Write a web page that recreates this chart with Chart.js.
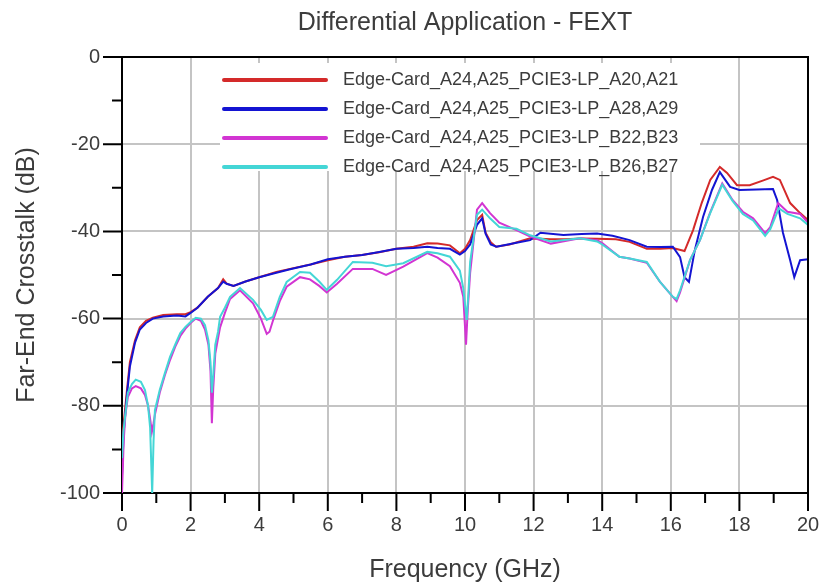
<!DOCTYPE html>
<html>
<head>
<meta charset="utf-8">
<script src="https://cdn.jsdelivr.net/npm/chart.js@4.4.1/dist/chart.umd.min.js"></script>
<style>
  body { margin: 0; background: #fff; }
  #wrap { width: 819px; height: 585px; }
</style>
</head>
<body>
<div id="wrap"><canvas id="fext" width="819" height="585"></canvas></div>
<script>
// Legend names
const seriesNames = [
  "Edge-Card_A24,A25_PCIE3-LP_A20,A21",
  "Edge-Card_A24,A25_PCIE3-LP_A28,A29",
  "Edge-Card_A24,A25_PCIE3-LP_B22,B23",
  "Edge-Card_A24,A25_PCIE3-LP_B26,B27",
];
const seriesColors = ["#d42a2a", "#1414d2", "#d235d2", "#44d6d6"];

// axis ticks
const xTicks = [0, 2, 4, 6, 8, 10, 12, 14, 16, 18, 20];
const yTicks = [-100, -80, -60, -40, -20, 0];

// A20,A21 (red)
const freqA20 = [0, 0.05, 0.15, 0.23, 0.38, 0.52, 0.7, 0.9, 1.2, 1.6, 1.85, 2.0, 2.2, 2.5, 2.8, 2.95, 3.05, 3.25, 3.6, 4.0,
  4.5, 4.9, 5.5, 6.0, 6.5, 7.0, 7.5, 8.0, 8.5, 8.9, 9.2, 9.56, 9.85, 10.0, 10.15, 10.35, 10.5, 10.6, 10.75, 10.9,
  11.3, 11.9, 12.5, 12.9, 13.4, 13.85, 14.4, 14.8, 15.3, 15.7, 16.06, 16.4, 16.65, 16.9, 17.15, 17.43, 17.64, 17.93, 18.3, 18.7,
  18.98, 19.18, 19.48, 19.77, 20];
const dbA20 = [-88, -84, -76, -70, -65, -62, -60.5, -59.8, -59.2, -59, -59, -58.5, -57.5, -55, -53, -51, -52, -52.5, -51.5, -50.5,
  -49.3, -48.6, -47.6, -46.6, -45.8, -45.4, -44.8, -44, -43.5, -42.7, -42.8, -43.2, -45, -44, -42, -37.4, -36.2, -40.3, -42.5, -43.5,
  -43, -41.6, -41.8, -41.8, -41.6, -41.7, -41.8, -42.4, -44, -44, -43.8, -44.5, -39.7, -33.5, -28.2, -25.2, -26.6, -29.4, -29.4, -28.3,
  -27.5, -28.2, -33.5, -35.8, -37.4];

// A28,A29 (blue)
const freqA28 = [0, 0.05, 0.15, 0.23, 0.38, 0.52, 0.7, 0.9, 1.2, 1.6, 1.85, 2.0, 2.2, 2.5, 2.8, 2.95, 3.05, 3.25, 3.6, 4.0,
  4.5, 4.9, 5.5, 6.0, 6.5, 7.0, 7.5, 8.0, 8.5, 8.9, 9.2, 9.56, 9.85, 10.0, 10.15, 10.35, 10.5, 10.6, 10.75, 10.92,
  11.5, 11.9, 12.2, 12.87, 13.4, 13.85, 14.3, 14.8, 15.3, 15.7, 16.06, 16.27, 16.4, 16.53, 16.7, 16.94, 17.2, 17.43, 17.73, 18.0,
  18.5, 18.98, 19.1, 19.27, 19.48, 19.6, 19.77, 20];
const dbA28 = [-96, -86, -77, -71, -65.5, -62.5, -61, -60, -59.5, -59.3, -59.5, -58.7, -57.5, -55, -53, -51.5, -52, -52.5, -51.5, -50.5,
  -49.5, -48.7, -47.6, -46.4, -45.8, -45.4, -44.7, -44, -43.8, -43.5, -43.8, -44, -45.3, -44.5, -43, -38.5, -37, -40.5, -43, -43.5,
  -42.6, -42, -40.3, -40.8, -40.6, -40.5, -41, -42, -43.5, -43.6, -43.5, -45.9, -50.5, -51.6, -44.3, -36.7, -30.5, -26.4, -29.8, -30.5,
  -30.4, -30.3, -32.8, -40.3, -46.6, -50.5, -46.6, -46.4];

// B22,B23 (magenta)
const freqB22 = [0, 0.05, 0.1, 0.17, 0.29, 0.4, 0.55, 0.67, 0.76, 0.82, 0.87, 0.92, 0.96, 1.1, 1.25, 1.4, 1.55, 1.7, 1.85, 2.0,
  2.15, 2.3, 2.42, 2.52, 2.58, 2.62, 2.66, 2.72, 2.8, 2.86, 3.0, 3.15, 3.44, 3.82, 4.05, 4.22, 4.3, 4.4, 4.6, 4.8,
  5.19, 5.48, 5.75, 5.97, 6.27, 6.73, 7.3, 7.7, 8.2, 8.9, 9.2, 9.56, 9.85, 9.95, 10.03, 10.08, 10.15, 10.35, 10.5, 10.73,
  11.0, 11.5, 11.9, 12.5, 13.35, 13.85, 14.0, 14.5, 14.8, 15.3, 15.68, 16.06, 16.17, 16.27, 16.56, 16.85, 17.14, 17.5, 17.8, 18.1,
  18.4, 18.75, 18.9, 19.13, 19.4, 19.77, 20];
const dbB22 = [-100, -88, -82, -78, -76, -75.5, -76, -77.5, -80, -83, -86, -84, -82, -77, -73, -69.5, -66.5, -64, -62.3, -61,
  -60, -60.5, -62.5, -66, -72, -84, -76, -68, -64.5, -62, -58.7, -55.5, -53.5, -56.5, -60, -63.5, -63, -60.5, -56, -52.7,
  -50.5, -51, -52.5, -54, -52, -48.6, -48.6, -50, -48.1, -45, -46, -48, -51.8, -55, -66, -58, -49.5, -35, -33.5, -35.8,
  -38, -39.7, -41.2, -42.8, -41.6, -42, -42.7, -45.8, -46.2, -47.2, -51.5, -55, -56, -54, -46.6, -42, -35.8, -29, -32.8, -35.5,
  -37, -40.4, -39, -33.5, -35.5, -36, -38];

// B26,B27 (cyan)
const freqB26 = [0, 0.04, 0.09, 0.17, 0.29, 0.4, 0.55, 0.67, 0.76, 0.82, 0.86, 0.88, 0.92, 0.96, 1.1, 1.25, 1.4, 1.55, 1.7, 1.85,
  2.0, 2.15, 2.3, 2.42, 2.52, 2.58, 2.62, 2.66, 2.72, 2.8, 2.86, 3.0, 3.15, 3.44, 3.82, 4.05, 4.22, 4.4, 4.6, 4.8,
  5.19, 5.48, 5.75, 5.97, 6.27, 6.73, 7.3, 7.7, 8.2, 8.9, 9.2, 9.56, 9.85, 9.95, 10.05, 10.1, 10.15, 10.35, 10.5, 10.73,
  11.0, 11.5, 11.9, 12.5, 13.35, 13.85, 14.0, 14.5, 14.8, 15.3, 15.68, 16.06, 16.17, 16.27, 16.56, 16.85, 17.14, 17.5, 17.8, 18.1,
  18.4, 18.75, 18.9, 19.15, 19.4, 19.77, 20];
const dbB26 = [-92, -86, -82.5, -77, -75, -74, -74.5, -76.4, -80, -85, -95, -100, -88, -81, -76.4, -72.5, -68.8, -66, -63.3, -61.9,
  -60.8, -59.8, -60, -61.5, -65, -70, -77, -73, -66, -63, -59.6, -57.5, -55, -53, -55.7, -58, -60.3, -59.6, -55, -51.6,
  -49.3, -49.5, -51.5, -53.4, -51.1, -47, -47.2, -48, -47.3, -44.7, -45, -45.8, -49, -53, -60.3, -54, -47, -36.2, -35, -37,
  -39, -39.4, -40.9, -42.3, -41.6, -42.3, -43, -45.8, -46.2, -47, -51.5, -55, -55.5, -53.5, -46.6, -42, -36, -29.3, -33, -36,
  -37.5, -41, -39.5, -34.7, -36, -37, -38.5];

const freqs = [freqA20, freqA28, freqB22, freqB26];
const values = [dbA20, dbA28, dbB22, dbB26];

const textColor = "#3c3c3c";
const fontFamily = '"Liberation Sans", Arial, sans-serif';

// legend inside plot, frame and tick marks
const fextDecor = {
  id: "fextDecor",
  beforeDatasetsDraw(chart) {
    const ctx = chart.ctx;
    ctx.save();
    ctx.fillStyle = "#fff";
    ctx.fillRect(220, 63, 480, 108);
    chart.data.datasets.forEach((ds, i) => {
      const ly = 80 + i * 29;
      ctx.strokeStyle = ds.borderColor;
      ctx.lineWidth = 4;
      ctx.lineCap = "round";
      ctx.beginPath();
      ctx.moveTo(224, ly);
      ctx.lineTo(326, ly);
      ctx.stroke();
      ctx.fillStyle = textColor;
      ctx.font = "18px " + fontFamily;
      ctx.textBaseline = "middle";
      ctx.fillText(ds.label, 343, ly);
    });
    ctx.restore();
  },
  afterDraw(chart) {
    const { ctx, chartArea: a, scales } = chart;
    ctx.save();
    ctx.strokeStyle = "#000";
    ctx.lineWidth = 2;
    ctx.beginPath();
    // top + right frame
    ctx.moveTo(a.left, a.top);
    ctx.lineTo(a.right, a.top);
    ctx.lineTo(a.right, a.bottom);
    // y tick marks, every 10 dB
    for (let v = -100; v <= 0; v += 10) {
      const py = scales.y.getPixelForValue(v);
      const len = v % 20 === 0 ? 19 : 10;
      ctx.moveTo(a.left - len, py);
      ctx.lineTo(a.left, py);
    }
    // x tick marks, every 1 GHz
    for (let f = 0; f <= 20; f += 1) {
      const px = scales.x.getPixelForValue(f);
      const len = f % 2 === 0 ? 18 : 10;
      ctx.moveTo(px, a.bottom);
      ctx.lineTo(px, a.bottom + len);
    }
    ctx.stroke();
    ctx.restore();
  },
};

const datasets = seriesNames.map((name, i) => ({
  label: name,
  data: freqs[i].map((f, j) => ({ x: f, y: values[i][j] })),
  borderColor: seriesColors[i],
  backgroundColor: seriesColors[i],
  borderWidth: 2,
  pointRadius: 0,
  tension: 0,
  order: 4 - i,
}));

new Chart(document.getElementById("fext"), {
  type: "line",
  data: { datasets: datasets },
  options: {
    responsive: false,
    animation: false,
    layout: { padding: { left: 0, right: 0, top: 0, bottom: 0 } },
    plugins: {
      legend: { display: false },
      tooltip: { enabled: false },
      title: {
        display: true,
        fullSize: false,
        text: "Differential Application - FEXT",
        color: textColor,
        font: { size: 25, family: fontFamily, weight: "normal" },
        padding: { top: 8, bottom: 19 },
      },
    },
    scales: {
      x: {
        type: "linear",
        min: 0,
        max: 20,
        afterFit(scale) {
          scale.height = 92;
          scale.paddingRight = 11;
        },
        afterBuildTicks(scale) {
          scale.ticks = xTicks.map((v) => ({ value: v }));
        },
        grid: { color: "#c4c4c4", lineWidth: 2, drawTicks: false },
        border: { color: "#000", width: 2 },
        ticks: {
          padding: 20,
          color: textColor,
          font: { size: 20, family: fontFamily },
          maxRotation: 0,
        },
        title: {
          display: true,
          text: "Frequency (GHz)",
          color: textColor,
          font: { size: 25, family: fontFamily },
          padding: { top: 0, bottom: 0 },
        },
      },
      y: {
        min: -100,
        max: 0,
        afterFit(scale) {
          scale.width = 122;
        },
        afterBuildTicks(scale) {
          scale.ticks = yTicks.map((v) => ({ value: v }));
        },
        grid: { color: "#c4c4c4", lineWidth: 2, drawTicks: false },
        border: { color: "#000", width: 2 },
        ticks: {
          padding: 22,
          color: textColor,
          font: { size: 20, family: fontFamily },
        },
        title: {
          display: true,
          text: "Far-End Crosstalk (dB)",
          color: textColor,
          font: { size: 25, family: fontFamily },
          padding: { top: 12, bottom: 0 },
        },
      },
    },
  },
  plugins: [fextDecor],
});
</script>
</body>
</html>
